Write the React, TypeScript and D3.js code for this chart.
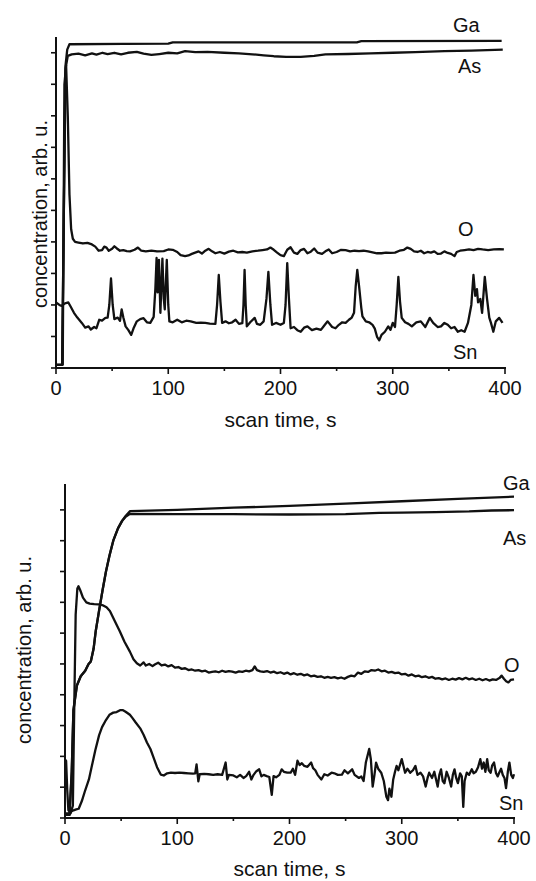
import React from 'react';
import * as d3 from 'd3';

type P = [number, number];

// ---------- axis ticks ----------
const xTicks = [0, 100, 200, 300, 400];
const xMinorTicks = [50, 150, 250, 350];
const yTicks = [0, 1, 2, 3, 4, 5, 6, 7, 8, 9, 10];
const xAxisTitle = 'scan time, s';
const yAxisTitle = 'concentration, arb. u.';
const seriesNames = ['Ga', 'As', 'O', 'Sn'];

// ---------- top panel data [time s, concentration arb.u.] ----------
const topGa: P[] = [[0,0.1],[5.5,0.1],[7,5],[8.5,9.6],[10,10.1],[12,10.27],[60,10.28],[100,10.29],[104,10.33],[180,10.33],[268,10.33],[272,10.37],[397,10.38]];
const topAs: P[] = [[0,0.1],[5.5,0.1],[7,5],[8.5,9.5],[10.5,9.9],[14,9.95],[20,9.97],[26,9.92],[32,9.98],[36,9.94],[41.5,10.0],[46,9.96],[52,10.0],[58,9.95],[64,10.0],[72,10.03],[78,9.97],[85,9.93],[92,9.96],[100,10.0],[108,9.98],[115,10.05],[124,10.02],[135,10.03],[150,10.0],[163,9.98],[175,9.95],[185,9.92],[194,9.89],[205,9.87],[218,9.87],[230,9.9],[240,9.95],[260,9.96],[280,9.98],[300,10.0],[320,10.02],[346,10.05],[370,10.07],[398,10.1]];
const topO: P[] = [[0,0.1],[6,0.1],[7.5,9.0],[9,9.6],[10.5,8.0],[12,5.5],[13.5,4.4],[15,4.1],[17,4.0],[20,3.98],[24,3.95],[28,3.97],[32,3.92],[35,3.85],[38,3.72],[41,3.74],[43,3.85],[45,3.82],[47,3.72],[50,3.78],[52,3.86],[54,3.8],[57,3.72],[60,3.74],[63,3.71],[66,3.7],[70,3.75],[73,3.82],[76,3.72],[80,3.7],[85,3.72],[90,3.7],[96,3.71],[100,3.76],[104,3.75],[108,3.68],[111,3.58],[115,3.55],[118,3.57],[121,3.62],[124,3.66],[127,3.7],[130,3.63],[133,3.72],[136,3.78],[139,3.7],[142,3.64],[146,3.68],[150,3.63],[154,3.69],[158,3.72],[162,3.67],[166,3.68],[170,3.66],[175,3.7],[180,3.72],[184,3.74],[188,3.76],[191,3.82],[194,3.75],[197,3.66],[200,3.58],[203,3.55],[206,3.75],[209,3.83],[212,3.66],[215,3.62],[218,3.74],[221,3.78],[224,3.64],[227,3.69],[230,3.79],[233,3.66],[237,3.62],[240,3.7],[243,3.76],[246,3.64],[250,3.68],[254,3.75],[258,3.74],[262,3.7],[266,3.72],[270,3.71],[274,3.72],[278,3.7],[282,3.67],[286,3.64],[290,3.64],[294,3.66],[298,3.65],[302,3.66],[306,3.72],[310,3.75],[313,3.82],[316,3.78],[319,3.7],[322,3.68],[325,3.72],[328,3.64],[331,3.68],[334,3.66],[337,3.7],[340,3.62],[343,3.63],[346,3.7],[349,3.65],[352,3.62],[355,3.55],[357,3.68],[360,3.72],[364,3.74],[368,3.76],[372,3.74],[376,3.78],[380,3.76],[385,3.74],[390,3.76],[395,3.77],[399,3.76]];
const topSn: P[] = [[0,2.08],[3,2.0],[5,1.97],[8,2.05],[11,2.08],[13,1.95],[16,1.75],[19,1.6],[23,1.43],[26,1.28],[29,1.32],[31,1.22],[34,1.3],[36,1.26],[38.5,1.53],[41,1.5],[44,1.59],[46,1.6],[47.5,2.0],[49,2.84],[50.5,2.0],[52,1.55],[55,1.6],[57,1.5],[58.5,1.86],[60,1.6],[62,1.32],[64.5,1.2],[67,1.05],[69,1.25],[72,1.48],[75,1.55],[78,1.58],[81,1.45],[84,1.43],[87,1.62],[88.5,2.5],[89.6,3.49],[90.5,2.4],[91.7,3.43],[93,1.75],[94.8,3.47],[96,2.2],[96.9,1.86],[98.7,3.43],[100,2.0],[101,1.48],[104,1.45],[108,1.53],[112,1.45],[116,1.5],[120,1.48],[125,1.43],[129,1.44],[133,1.43],[137,1.41],[142,1.4],[143.5,2.0],[145,2.95],[146.5,2.1],[148,1.43],[151,1.48],[154,1.42],[157,1.45],[160,1.53],[163,1.4],[166,1.42],[167,2.0],[168,3.11],[169,2.0],[170,1.32],[173,1.45],[177,1.59],[179,1.4],[182,1.37],[185,1.48],[187.5,2.2],[189.2,3.05],[191,2.0],[192.5,1.37],[196,1.43],[200,1.37],[203,1.43],[204.5,2.0],[206,3.33],[207.5,2.2],[209,1.26],[212,1.3],[215,1.2],[218,1.15],[221,1.28],[224,1.32],[228,1.2],[232,1.25],[236,1.21],[239,1.35],[242,1.48],[246,1.3],[249,1.26],[252,1.37],[255,1.45],[258,1.43],[261,1.53],[263.5,1.6],[265.5,1.75],[267,2.6],[268.4,3.11],[270,2.6],[272,1.9],[273,1.64],[276,1.48],[279,1.45],[282,1.37],[284,1.25],[286,0.99],[288,0.88],[290,1.05],[293,1.15],[296,1.32],[298,1.21],[300,1.43],[302,1.3],[303.5,2.0],[305,2.89],[306.5,2.1],[308,1.59],[311,1.45],[314,1.4],[317,1.32],[321,1.45],[325,1.48],[329,1.3],[333,1.59],[336,1.43],[340,1.3],[343,1.32],[346,1.43],[349,1.37],[352,1.26],[355,1.3],[358,1.15],[361,1.2],[364,1.15],[367,1.43],[370,2.0],[371.9,2.95],[373.5,2.29],[375,2.5],[376,2.08],[378,2.19],[379.6,1.75],[382,2.89],[384,2.19],[386,1.6],[387.5,1.43],[389.6,1.15],[391.8,1.48],[394.8,1.59],[397.8,1.43]];

// ---------- bottom panel data ----------
const botGa: P[] = [[0,0.1],[4,0.1],[6,1.5],[7.5,3.5],[10.6,4.3],[14,4.6],[18,4.78],[21,5.0],[23,5.08],[25.5,5.5],[27.4,6.07],[30.4,6.74],[33.5,7.4],[36.5,8.0],[39.6,8.51],[43,9.0],[47.2,9.4],[51,9.65],[54,9.8],[58,9.96],[100,10.0],[150,10.07],[200,10.13],[250,10.2],[300,10.28],[350,10.36],[400,10.43]];
const botAs: P[] = [[0,0.1],[4,0.1],[6,1.5],[7.5,3.5],[10.6,4.3],[14,4.6],[18,4.78],[21,5.0],[23,5.08],[25.5,5.5],[27.4,6.07],[30.4,6.74],[33.5,7.4],[36.5,8.0],[39.6,8.51],[43,9.0],[47.2,9.4],[51,9.65],[54,9.78],[58,9.87],[100,9.86],[150,9.86],[200,9.85],[250,9.86],[280,9.9],[300,9.91],[330,9.93],[360,9.95],[380,9.98],[400,9.99]];
const botO: P[] = [[0,0.15],[5,0.15],[7,0.4],[8,3.0],[9.5,6.6],[11,7.45],[12,7.52],[13.5,7.4],[16,7.15],[19,7.0],[22,6.96],[26,6.94],[30,6.93],[34,6.9],[37,6.84],[40,6.72],[44,6.42],[48.7,6.07],[53,5.72],[57.8,5.4],[61,5.15],[64,5.02],[67,4.95],[70,5.05],[72,4.95],[75,5.0],[78,4.93],[80,4.98],[83,5.04],[86,4.95],[89,4.98],[92,4.92],[95,4.96],[98,4.88],[101,4.9],[104,4.84],[107,4.86],[110,4.8],[113,4.82],[116,4.78],[119,4.8],[122,4.76],[125,4.78],[128,4.72],[131,4.74],[134,4.76],[137,4.73],[140,4.78],[143,4.74],[146,4.77],[149,4.75],[152,4.72],[155,4.76],[158,4.74],[161,4.78],[164,4.76],[167,4.8],[169,4.92],[171,4.8],[174,4.76],[177,4.74],[180,4.77],[183,4.72],[186,4.75],[189,4.7],[192,4.73],[195,4.68],[198,4.72],[201,4.66],[204,4.7],[207,4.65],[210,4.68],[213,4.63],[216,4.66],[219,4.6],[222,4.62],[225,4.58],[228,4.6],[231,4.55],[234,4.58],[237,4.55],[240,4.57],[243,4.53],[246,4.56],[249,4.52],[252,4.58],[255,4.62],[258,4.6],[261,4.72],[264,4.68],[267,4.76],[270,4.74],[273,4.8],[276,4.78],[279,4.82],[282,4.76],[285,4.78],[288,4.72],[291,4.74],[294,4.7],[297,4.72],[300,4.66],[303,4.68],[306,4.62],[309,4.66],[312,4.6],[315,4.62],[318,4.57],[321,4.6],[324,4.55],[327,4.58],[330,4.52],[333,4.54],[336,4.5],[339,4.53],[342,4.48],[345,4.52],[348,4.49],[351,4.54],[354,4.5],[357,4.55],[360,4.5],[363,4.53],[366,4.48],[369,4.52],[372,4.47],[375,4.51],[378,4.46],[381,4.5],[384,4.48],[387,4.54],[389,4.62],[391,4.52],[393,4.44],[395,4.4],[397,4.48],[400,4.5]];
const botSn: P[] = [[0,1.9],[1,1.85],[2,0.9],[3,0.25],[5,0.2],[7.6,0.25],[10,0.28],[12.2,0.3],[15,0.55],[18,0.9],[21.3,1.25],[24,1.7],[27,2.2],[30.4,2.69],[33,2.95],[36,3.15],[39.6,3.35],[43,3.42],[46,3.44],[49,3.5],[51.7,3.5],[54,3.45],[57.8,3.35],[60,3.25],[63,3.1],[67,2.91],[70,2.7],[73,2.45],[76.1,2.24],[79,1.95],[82,1.65],[85.3,1.41],[88,1.38],[91,1.45],[94.4,1.47],[98,1.46],[102,1.47],[106,1.46],[110,1.45],[114,1.44],[116,1.45],[117.2,1.74],[118.8,1.19],[120,1.42],[124,1.43],[128,1.42],[132,1.4],[136,1.42],[140,1.4],[143.1,1.8],[144.6,1.25],[146,1.4],[150,1.38],[153,1.32],[156,1.4],[159,1.3],[161.4,1.36],[164,1.5],[166,1.25],[168,1.4],[170.5,1.52],[173,1.58],[175,1.35],[177,1.4],[179.7,1.36],[182,1.33],[184.2,0.75],[185.8,1.36],[188,1.32],[191,1.4],[193,1.58],[195,1.5],[198,1.47],[201,1.47],[203,1.6],[205,1.4],[207.1,1.86],[209,1.72],[211,1.78],[213.2,1.69],[216,1.66],[219.3,1.8],[221,1.62],[223,1.55],[225,1.4],[228.4,1.25],[231,1.42],[234,1.38],[237.5,1.47],[240,1.45],[243,1.4],[246.7,1.41],[249,1.55],[252,1.45],[255.8,1.58],[258,1.4],[261.9,1.3],[264,1.35],[266,1.2],[268,1.8],[271,2.24],[272.5,1.9],[274.1,1.02],[275.5,1.35],[277.1,1.8],[279,1.6],[281.7,1.47],[284,1.2],[286.3,0.69],[287.8,0.58],[289,0.95],[290.8,0.69],[292.4,1.25],[294,1.5],[295.4,1.69],[297,1.55],[300,1.91],[303,1.47],[305,1.6],[307.6,1.47],[310,1.55],[312.2,1.69],[314,1.4],[316.7,1.47],[319,1.35],[321.3,1.02],[323,1.3],[324.4,1.47],[327,1.3],[329,1.5],[332,1.02],[333.5,1.4],[335,1.58],[336.5,1.2],[338,1.13],[340,1.5],[342,1.3],[344,1.02],[345.5,1.4],[347,1.58],[348.5,1.3],[350,1.13],[352,1.45],[353.5,1.35],[354.8,0.36],[356,1.2],[357.9,1.47],[360,1.4],[362.4,1.58],[364,1.45],[366,1.5],[368,1.65],[370,1.91],[371.5,1.6],[373,1.8],[374.5,1.5],[376.1,1.91],[377.5,1.55],[379.2,1.47],[380.5,1.7],[382.2,1.8],[384,1.45],[385.5,1.35],[386.8,1.47],[388.5,1.6],[390,1.4],[391.5,1.3],[392.9,0.97],[394.5,1.5],[395.9,1.8],[397.5,1.4],[399,1.3],[400,1.42]];

// ---------- layout ----------
const FONT = '"Liberation Sans", Arial, Helvetica, sans-serif';

interface Layout {
  x0: number; x1: number; yb: number; yt: number; yMax: number;
  tickLabelY: number; titleY: number; yTitleX: number; yTitleY: number;
  labelPos: [number, number][];
}

const topLayout: Layout = {
  x0: 56, x1: 505, yb: 368, yt: 37, yMax: 10.5,
  tickLabelY: 395, titleY: 427, yTitleX: 47, yTitleY: 214,
  labelPos: [[453, 32], [458, 73], [458, 236], [453, 359]],
};
const botLayout: Layout = {
  x0: 65, x1: 514, yb: 818, yt: 484, yMax: 10.84,
  tickLabelY: 845, titleY: 876, yTitleX: 31, yTitleY: 650,
  labelPos: [[503, 490], [503, 545], [504, 672], [499, 810]],
};

function Panel({ L, series }: { L: Layout; series: P[][] }) {
  const x = d3.scaleLinear().domain([0, 400]).range([L.x0, L.x1]);
  const y = d3.scaleLinear().domain([0, L.yMax]).range([L.yb, L.yt]);
  const line = d3.line<P>().x(d => x(d[0])).y(d => y(d[1]));
  const stroke = '#111';
  return (
    <g fontFamily={FONT} fill="#111">
      {series.map((s, i) => (
        <path key={i} d={line(s) || ''} fill="none" stroke={stroke} strokeWidth={2.3} strokeLinejoin="round" />
      ))}
      {/* axes */}
      <line x1={x(0)} x2={x(0)} y1={y(0)} y2={L.yt} stroke={stroke} strokeWidth={2} />
      <line x1={x(0) - 1} x2={x(400) + 1} y1={y(0)} y2={y(0)} stroke={stroke} strokeWidth={2} />
      {yTicks.map(t => (
        <line key={'y' + t} x1={x(0) - 5} x2={x(0)} y1={y(t)} y2={y(t)} stroke={stroke} strokeWidth={1.6} />
      ))}
      {xTicks.map(t => (
        <line key={'x' + t} x1={x(t)} x2={x(t)} y1={y(0)} y2={y(0) + 6} stroke={stroke} strokeWidth={1.6} />
      ))}
      {xMinorTicks.map(t => (
        <line key={'xm' + t} x1={x(t)} x2={x(t)} y1={y(0)} y2={y(0) + 3} stroke={stroke} strokeWidth={1.6} />
      ))}
      {xTicks.map(t => (
        <text key={'xl' + t} x={x(t)} y={L.tickLabelY} fontSize={20} textAnchor="middle">{t}</text>
      ))}
      <text x={(L.x0 + L.x1) / 2} y={L.titleY} fontSize={21} textAnchor="middle">{xAxisTitle}</text>
      <text transform={`translate(${L.yTitleX},${L.yTitleY}) rotate(-90)`} fontSize={20} textAnchor="middle">{yAxisTitle}</text>
      {seriesNames.map((n, i) => (
        <text key={n} x={L.labelPos[i][0]} y={L.labelPos[i][1]} fontSize={20}>{n}</text>
      ))}
    </g>
  );
}

export default function App() {
  return (
    <svg width={536} height={881} style={{ position: 'absolute', left: 0, top: 0, background: '#fff' }}>
      <rect width={536} height={881} fill="#fff" />
      <Panel L={topLayout} series={[topGa, topAs, topO, topSn]} />
      <Panel L={botLayout} series={[botGa, botAs, botO, botSn]} />
    </svg>
  );
}
